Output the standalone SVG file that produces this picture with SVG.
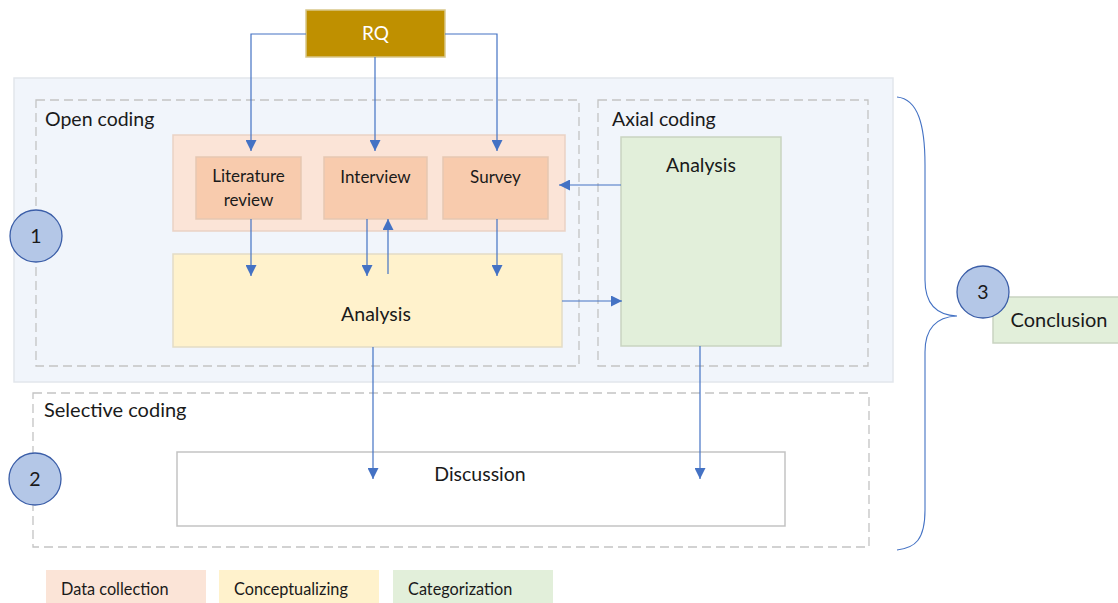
<svg xmlns="http://www.w3.org/2000/svg" width="1118" height="603" viewBox="0 0 1118 603">
<defs>
<style>
text{font-family:Lato,"Noto Sans","Liberation Sans",sans-serif;fill:#1a1a1a}
.dash{fill:none;stroke:#C3C3C3;stroke-width:1.3;stroke-dasharray:9,5}
.conn{fill:none;stroke:#4472C4;stroke-width:1.2}
.lbl{font-size:19.5px}
.big{font-size:20px}
.node{font-size:17px}
.circ{fill:#B4C7E7;stroke:#3B5EA8;stroke-width:1.3}
.peach{fill:#F8CBAD;stroke:#E6C7B2;stroke-width:1.5}
.legend{font-size:16.3px}
</style>
<marker id="ah" viewBox="0 0 10 10" refX="10" refY="5" markerWidth="11" markerHeight="11" markerUnits="userSpaceOnUse" orient="auto">
<path d="M0,0 L10,5 L0,10 z" fill="#4472C4"/>
</marker>
</defs>
<rect width="1118" height="603" fill="#FFFFFF"/>

<g id="panel">
<rect x="14" y="78" width="879" height="304" fill="#F1F5FB" stroke="#E2E6EC" stroke-width="1.5"/>
</g>

<g id="open-coding">
<rect class="dash" x="36" y="100" width="543" height="266"/>
<text class="lbl" x="45" y="126">Open coding</text>
</g>

<g id="axial-coding">
<rect class="dash" x="598" y="100" width="270" height="266"/>
<text class="lbl" x="612" y="126">Axial coding</text>
</g>

<g id="selective-coding">
<rect class="dash" x="33" y="393" width="836" height="154"/>
<text class="big" x="44" y="417">Selective coding</text>
</g>

<g id="rq">
<rect x="306" y="10" width="139" height="47" fill="#BF9000" stroke="#D9C78A" stroke-width="1.5"/>
<text x="375.5" y="40" font-size="19" text-anchor="middle" style="fill:#FFFFFF">RQ</text>
</g>

<g id="data-collection">
<rect x="173" y="135" width="392" height="96" fill="#FBE4D7" stroke="#EAD2C5" stroke-width="1.5"/>
</g>

<g id="literature-review">
<rect class="peach" x="196" y="157" width="105" height="62"/>
<text class="node" x="248.5" y="182" text-anchor="middle">Literature</text>
<text class="node" x="248.5" y="206" text-anchor="middle">review</text>
</g>

<g id="interview">
<rect class="peach" x="324" y="157" width="103" height="62"/>
<text class="node" x="375.5" y="183" text-anchor="middle">Interview</text>
</g>

<g id="survey">
<rect class="peach" x="443" y="157" width="105" height="62"/>
<text class="node" x="495.5" y="183" text-anchor="middle">Survey</text>
</g>

<g id="analysis-open">
<rect x="173" y="254" width="389" height="93" fill="#FFF2CC" stroke="#E3DCC6" stroke-width="1.5"/>
<text class="lbl" x="376" y="321" text-anchor="middle">Analysis</text>
</g>

<g id="analysis-axial">
<rect x="621" y="137" width="160" height="209" fill="#E2EFDA" stroke="#C9D4C1" stroke-width="1.5"/>
<text class="lbl" x="701" y="172" text-anchor="middle">Analysis</text>
</g>

<g id="discussion">
<rect x="177" y="452" width="608" height="74" fill="#FFFFFF" stroke="#C3C3C3" stroke-width="1.5"/>
<text class="lbl" x="480" y="481" text-anchor="middle">Discussion</text>
</g>

<g id="conclusion">
<rect x="993" y="297" width="127" height="46" fill="#E2EFDA" stroke="#C9D4C1" stroke-width="1.5"/>
<text class="big" x="1059" y="327" text-anchor="middle">Conclusion</text>
</g>

<g id="step-1">
<circle class="circ" cx="36" cy="236" r="26"/>
<text class="lbl" x="36" y="243" text-anchor="middle">1</text>
</g>
<g id="step-2">
<circle class="circ" cx="35" cy="479" r="26"/>
<text class="lbl" x="35" y="486" text-anchor="middle">2</text>
</g>
<g id="step-3">
<circle class="circ" cx="983" cy="292" r="26"/>
<text class="lbl" x="983" y="299" text-anchor="middle">3</text>
</g>

<g id="brace">
<path d="M897,97 C918,99 925,125 925,165 L925,280 C925,303 935,315 957,316 C935,317 925,329 925,352 L925,510 C925,540 915,548 897,550" fill="none" stroke="#4472C4" stroke-width="1.1"/>
</g>

<g id="connectors">
<path class="conn" d="M306,34 H251 V151" marker-end="url(#ah)"/>
<path class="conn" d="M375,57 V151" marker-end="url(#ah)"/>
<path class="conn" d="M445,34 H497 V151" marker-end="url(#ah)"/>
<path class="conn" d="M251,219 V276" marker-end="url(#ah)"/>
<path class="conn" d="M367,219 V276" marker-end="url(#ah)"/>
<path class="conn" d="M388,274 V219" marker-end="url(#ah)"/>
<path class="conn" d="M497,219 V276" marker-end="url(#ah)"/>
<path class="conn" d="M562,301 H622" marker-end="url(#ah)"/>
<path class="conn" d="M621,185 H559" marker-end="url(#ah)"/>
<path class="conn" d="M373,347 V479" marker-end="url(#ah)"/>
<path class="conn" d="M700,346 V479" marker-end="url(#ah)"/>
</g>

<g id="legend">
<rect x="46" y="570" width="160" height="34" fill="#FBE4D7"/>
<text class="legend" x="61" y="595">Data collection</text>
<rect x="219" y="570" width="160" height="34" fill="#FFF2CC"/>
<text class="legend" x="234" y="595">Conceptualizing</text>
<rect x="393" y="570" width="160" height="34" fill="#E2EFDA"/>
<text class="legend" x="408" y="595">Categorization</text>
</g>
</svg>
